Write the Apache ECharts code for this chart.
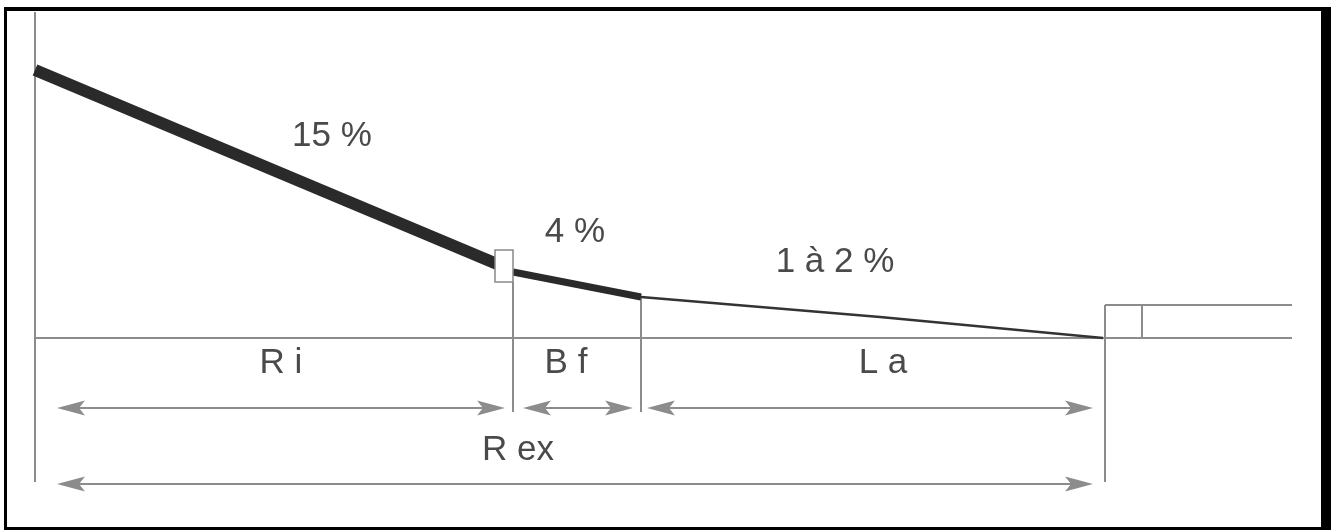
<!DOCTYPE html>
<html><head><meta charset="utf-8">
<script src="https://cdn.jsdelivr.net/npm/echarts@6/dist/echarts.min.js"></script>
<style>html,body{margin:0;padding:0;background:#fff}#c{width:1331px;height:530px}</style>
</head><body><div id="c"></div>
<script>
// ---- Diagram data (drawing units = positions on the cross-section) ----
const slopeLabels = ['15 %', '4 %', '1 à 2 %'];
const slopeLabelX = [332, 575, 835];
const slopeLabelY = [136, 232, 262];

const sectionNames = ['R i', 'B f', 'L a'];
const sectionLabelX = [281, 566, 883];
const sectionLabelY = [363, 363, 363];

const totalName = 'R ex';
const totalLabelX = 518;
const totalLabelY = 450;

// profile polylines [x, y]
const profileRi = [[35, 70], [497, 264]];
const profileBf = [[513, 272], [641, 297]];
const profileLa = [[641, 297], [880, 317], [1103, 338]];

// kerb box [x0, y0, x1, y1]
const kerbBox = [495, 250, 513, 282];

// reference lines [x1, y1, x2, y2]
const refLines = [
  [35, 12, 35, 482],
  [513, 282, 513, 412],
  [641, 297, 641, 412],
  [1105, 305, 1105, 482],
  [35, 338, 1292, 338],
  [1105, 305, 1292, 305],
  [1142, 305, 1142, 338]
];

// dimension arrows [xStart, xEnd, y]
const dimStart = [57, 523, 647, 57];
const dimEnd = [505, 633, 1093, 1093];
const dimRow = [408, 408, 408, 484];

// ---- build ----
const GRAY = '#8c8c8c';
const FONT = '"Liberation Sans", Arial, sans-serif';
const TEXT = '#4a4a4a';

const labelData = [];
slopeLabels.forEach((t, i) => labelData.push([slopeLabelX[i], slopeLabelY[i], t]));
sectionNames.forEach((t, i) => labelData.push([sectionLabelX[i], sectionLabelY[i], t]));
labelData.push([totalLabelX, totalLabelY, totalName]);

const dimData = dimStart.map((s, i) => [s, dimEnd[i], dimRow[i]]);

function segItem(params, api) {
  const p1 = api.coord([api.value(0), api.value(1)]);
  const p2 = api.coord([api.value(2), api.value(3)]);
  return {type: 'line', shape: {x1: p1[0], y1: p1[1], x2: p2[0], y2: p2[1]},
          style: {stroke: GRAY, lineWidth: 2}};
}
function arrowItem(params, api) {
  const a = api.coord([api.value(0), api.value(2)]);
  const b = api.coord([api.value(1), api.value(2)]);
  const L = 28, W = 7.5, N = 22;
  return {type: 'group', children: [
    {type: 'line', shape: {x1: a[0] + N, y1: a[1], x2: b[0] - N, y2: b[1]}, style: {stroke: GRAY, lineWidth: 2}},
    {type: 'polygon', shape: {points: [[a[0], a[1]], [a[0] + L, a[1] - W], [a[0] + N, a[1]], [a[0] + L, a[1] + W]]}, style: {fill: GRAY}},
    {type: 'polygon', shape: {points: [[b[0], b[1]], [b[0] - L, b[1] - W], [b[0] - N, b[1]], [b[0] - L, b[1] + W]]}, style: {fill: GRAY}}
  ]};
}
function textItem(params, api) {
  const p = api.coord([api.value(0), api.value(1)]);
  return {type: 'text', x: p[0], y: p[1],
          style: {text: labelData[params.dataIndex][2], fontSize: 35, fontFamily: FONT, fill: TEXT,
                  align: 'center', verticalAlign: 'middle'}};
}
function boxItem(params, api) {
  const p0 = api.coord([api.value(0), api.value(1)]);
  const p1 = api.coord([api.value(2), api.value(3)]);
  return {type: 'rect', shape: {x: p0[0], y: p0[1], width: p1[0] - p0[0], height: p1[1] - p0[1]},
          style: {fill: '#fff', stroke: '#888', lineWidth: 1.5}};
}

const chart = echarts.init(document.getElementById('c'), null, {renderer: 'canvas'});
chart.setOption({
  animation: false,
  backgroundColor: '#fff',
  grid: {left: 0, right: 0, top: 0, bottom: 0},
  xAxis: {type: 'value', min: 0, max: 1331, show: false},
  yAxis: {type: 'value', min: 0, max: 530, inverse: true, show: false},
  graphic: [
    {type: 'rect', shape: {x: 4, y: 7, width: 1327, height: 4}, style: {fill: '#000'}},
    {type: 'rect', shape: {x: 4, y: 7, width: 3, height: 523}, style: {fill: '#000'}},
    {type: 'rect', shape: {x: 1321, y: 7, width: 10, height: 523}, style: {fill: '#000'}},
    {type: 'rect', shape: {x: 4, y: 527, width: 1327, height: 3}, style: {fill: '#000'}}
  ],
  series: [
    {type: 'custom', renderItem: segItem, data: refLines, z: 1, silent: true},
    {type: 'custom', renderItem: arrowItem, data: dimData, z: 1, silent: true},
    {type: 'line', data: profileRi, symbol: 'none', z: 3, lineStyle: {color: '#2a2a2a', width: 12}},
    {type: 'line', data: profileBf, symbol: 'none', z: 3, lineStyle: {color: '#2a2a2a', width: 7}},
    {type: 'line', data: profileLa, symbol: 'none', z: 3, lineStyle: {color: '#333', width: 2.5}},
    {type: 'custom', renderItem: boxItem, data: [kerbBox], z: 4, silent: true},
    {type: 'custom', renderItem: textItem, data: labelData.map(d => [d[0], d[1]]), z: 5, silent: true}
  ]
});
</script></body></html>
